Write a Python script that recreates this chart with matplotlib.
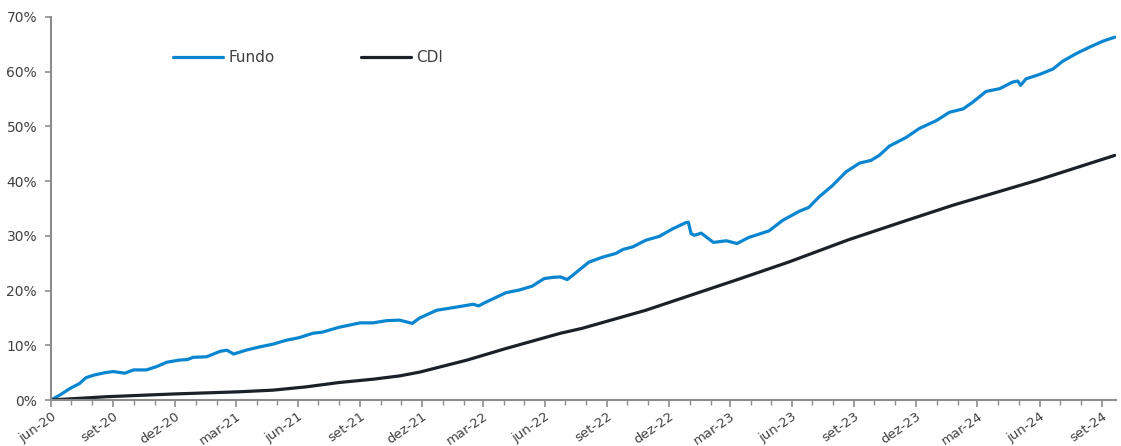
import pandas as pd
import matplotlib
matplotlib.use("Agg")
import matplotlib.pyplot as plt
import matplotlib.dates as mdates
from matplotlib.ticker import FuncFormatter, MultipleLocator

# Fundo - cumulative return (%)
fundo_dates = [
    "2020-06-01", "2020-06-14", "2020-06-29", "2020-07-13", "2020-07-23", "2020-08-05",
    "2020-08-20", "2020-09-01", "2020-09-18", "2020-10-01", "2020-10-20", "2020-11-04",
    "2020-11-19", "2020-12-08", "2020-12-20", "2020-12-28", "2021-01-17", "2021-02-06",
    "2021-02-16", "2021-02-26", "2021-03-16", "2021-04-05", "2021-04-25", "2021-05-14",
    "2021-06-03", "2021-06-23", "2021-07-07", "2021-08-01", "2021-09-01", "2021-09-20",
    "2021-10-10", "2021-10-29", "2021-11-17", "2021-11-28", "2021-12-23", "2022-01-22",
    "2022-02-15", "2022-02-23", "2022-03-06", "2022-03-25", "2022-04-04", "2022-04-24",
    "2022-05-13", "2022-05-31", "2022-06-12", "2022-06-24", "2022-07-04", "2022-07-21",
    "2022-08-05", "2022-08-25", "2022-09-14", "2022-09-24", "2022-10-09", "2022-10-28",
    "2022-11-17", "2022-12-07", "2022-12-26", "2022-12-30", "2023-01-03", "2023-01-08",
    "2023-01-18", "2023-02-05", "2023-02-24", "2023-03-12", "2023-03-29", "2023-04-28",
    "2023-05-18", "2023-06-12", "2023-06-26", "2023-07-11", "2023-07-31", "2023-08-20",
    "2023-09-09", "2023-09-26", "2023-10-08", "2023-10-23", "2023-11-17", "2023-12-06",
    "2024-01-01", "2024-01-20", "2024-02-09", "2024-02-23", "2024-03-14", "2024-04-03",
    "2024-04-22", "2024-04-30", "2024-05-04", "2024-05-12", "2024-06-01", "2024-06-21",
    "2024-07-05", "2024-07-25", "2024-08-14", "2024-09-03", "2024-09-20",
]
fundo_values = [
    0.0, 0.9, 2.1, 3.0, 4.1, 4.6,
    5.0, 5.2, 4.9, 5.5, 5.5, 6.1,
    6.9, 7.3, 7.4, 7.8, 7.9, 8.9,
    9.1, 8.4, 9.1, 9.7, 10.2, 10.9,
    11.4, 12.2, 12.4, 13.3, 14.1, 14.1,
    14.5, 14.6, 14.0, 15.0, 16.4, 17.0,
    17.5, 17.2, 17.9, 19.0, 19.6, 20.1,
    20.8, 22.2, 22.4, 22.5, 22.0, 23.7,
    25.2, 26.1, 26.8, 27.5, 28.0, 29.2,
    29.9, 31.3, 32.4, 32.5, 30.4, 30.1,
    30.5, 28.8, 29.1, 28.6, 29.7, 30.9,
    32.8, 34.5, 35.2, 37.1, 39.2, 41.7,
    43.3, 43.8, 44.7, 46.4, 48.0, 49.6,
    51.1, 52.6, 53.2, 54.4, 56.4, 56.9,
    58.1, 58.3, 57.5, 58.7, 59.5, 60.5,
    61.9, 63.3, 64.5, 65.6, 66.3,
]

# CDI - cumulative return (%)
cdi_dates = [
    "2020-06-01", "2020-08-22", "2020-11-29", "2021-03-06", "2021-04-25", "2021-06-13",
    "2021-08-01", "2021-09-20", "2021-10-29", "2021-11-28", "2022-02-06", "2022-04-04",
    "2022-06-24", "2022-07-26", "2022-10-28", "2023-03-10", "2023-05-27", "2023-08-24",
    "2023-11-17", "2024-01-25", "2024-05-27", "2024-09-20",
]
cdi_values = [
    0.0, 0.6, 1.1, 1.5, 1.8, 2.4,
    3.2, 3.8, 4.4, 5.1, 7.3, 9.4,
    12.2, 13.1, 16.4, 21.9, 25.2, 29.3,
    32.8, 35.6, 40.1, 44.7,
]

meses = {1: "jan", 2: "fev", 3: "mar", 4: "abr", 5: "mai", 6: "jun",
         7: "jul", 8: "ago", 9: "set", 10: "out", 11: "nov", 12: "dez"}

text_color = "#404040"
axis_color = "#8c8c8c"

fig = plt.figure(figsize=(11.21, 4.46), dpi=100)
ax = fig.add_axes([51 / 1121, 46 / 446, 1065 / 1121, 383 / 446])

ax.plot(pd.to_datetime(fundo_dates), fundo_values, color="#0a86d1", lw=2.3,
        label="Fundo", solid_capstyle="round")
ax.plot(pd.to_datetime(cdi_dates), cdi_values, color="#1c2128", lw=2.3,
        label="CDI", solid_capstyle="round")

ax.set_xlim(pd.Timestamp("2020-06-01"), pd.Timestamp("2024-09-22"))
ax.set_ylim(0, 70)

ax.yaxis.set_major_locator(MultipleLocator(10))
ax.yaxis.set_major_formatter(FuncFormatter(lambda v, p: f"{v:.0f}%"))

ax.xaxis.set_major_locator(mdates.MonthLocator(bymonth=[3, 6, 9, 12]))
ax.xaxis.set_minor_locator(mdates.MonthLocator())

def fmt_date(v, pos):
    d = mdates.num2date(v)
    return f"{meses[d.month]}-{d.year % 100:02d}"

ax.xaxis.set_major_formatter(FuncFormatter(fmt_date))

for s in ["top", "right"]:
    ax.spines[s].set_visible(False)
for s in ["left", "bottom"]:
    ax.spines[s].set_color(axis_color)
    ax.spines[s].set_linewidth(1.5)

ax.tick_params(axis="y", colors=axis_color, labelcolor=text_color, labelsize=10,
               length=4, width=1.2, pad=6)
ax.tick_params(axis="x", which="major", colors=axis_color, labelcolor=text_color,
               labelsize=9.5, length=5, width=1.2, pad=2)
ax.tick_params(axis="x", which="minor", colors=axis_color, length=3.5, width=1.0)

for lbl in ax.get_xticklabels():
    lbl.set_rotation(35)
    lbl.set_ha("right")
    lbl.set_va("top")
    lbl.set_rotation_mode("anchor")

leg = ax.legend(ncol=2, loc="center left", bbox_to_anchor=(0.1146, 0.893),
                frameon=False, fontsize=11, handlelength=3.3, handletextpad=0.35,
                columnspacing=5.6, borderpad=0, borderaxespad=0)
for t in leg.get_texts():
    t.set_color(text_color)

fig.savefig("out.png", dpi=100)
